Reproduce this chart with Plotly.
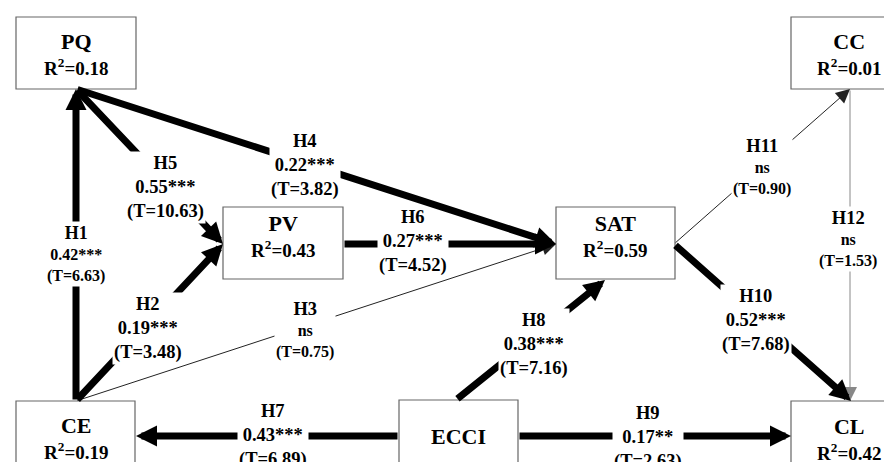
import plotly.graph_objects as go

# ---------------- data ----------------
node_names = ["PQ", "CC", "PV", "SAT", "CE", "ECCI", "CL"]
node_r2 = [0.18, 0.01, 0.43, 0.59, 0.19, None, 0.42]

hyp_ids = ["H1", "H2", "H3", "H4", "H5", "H6", "H7", "H8", "H9", "H10", "H11", "H12"]
hyp_from = ["CE", "CE", "CE", "PQ", "PQ", "PV", "ECCI", "ECCI", "ECCI", "SAT", "SAT", "CC"]
hyp_to = ["PQ", "PV", "SAT", "SAT", "PV", "SAT", "CE", "SAT", "CL", "CL", "CC", "CL"]
hyp_beta = [0.42, 0.19, None, 0.22, 0.55, 0.27, 0.43, 0.38, 0.17, 0.52, None, None]
hyp_sig = ["***", "***", "ns", "***", "***", "***", "***", "***", "**", "***", "ns", "ns"]
hyp_t = [6.63, 3.48, 0.75, 3.82, 10.63, 4.52, 6.89, 7.16, 2.63, 7.68, 0.90, 1.53]

# ---------------- layout (positions / styles) ----------------
FONT = "Liberation Serif"
BOX = {  # x0, y0, x1, y1
    "PQ": (8, 9, 128, 81), "CC": (783, 9, 900, 81),
    "PV": (215, 199, 335, 271), "SAT": (548, 199, 667, 271),
    "CE": (8, 393, 127, 480), "ECCI": (391, 392, 510, 480), "CL": (783, 393, 900, 480),
}
TEXT_POS = {
    "PQ": (68, 46), "CC": (841, 46), "PV": (275, 228), "SAT": (607, 228),
    "CE": (68, 430), "ECCI": (450, 428), "CL": (841, 431),
}
EDGE_GEOM = {  # tail, head
    "H1": ((68, 393), (68, 81)), "H2": ((68, 393), (215, 236)),
    "H3": ((68, 393), (548, 236)), "H4": ((68, 81), (548, 236)),
    "H5": ((68, 81), (215, 236)), "H6": ((335, 236), (548, 236)),
    "H7": ((391, 428), (128, 428)), "H8": ((448, 392), (597, 272)),
    "H9": ((510, 428), (783, 428)), "H10": ((666, 236), (843, 393)),
    "H11": ((666, 236), (842, 81)), "H12": ((842, 81), (842, 393)),
}
LABEL_POS = {
    "H1": (68, 246), "H2": (140, 320), "H3": (297, 322), "H4": (297, 157),
    "H5": (157, 179), "H6": (405, 233), "H7": (265, 427), "H8": (526, 336),
    "H9": (640, 429), "H10": (748, 312), "H11": (754, 159), "H12": (840, 231),
}
EDGE_STYLE = {  # width, color, arrowsize
    "thick": (7, "black", 0.6),
    "thin": (1, "#222222", 2.8),
    "grey": (1, "#888888", 2.8),
}
EDGE_KIND = {h: "thick" for h in hyp_ids}
EDGE_KIND.update({"H3": "thin", "H11": "thin", "H12": "grey"})
DRAW_ORDER = ["H3", "H12", "H6", "H1", "H2", "H4", "H5", "H7", "H8", "H9", "H10", "H11"]

fig = go.Figure()
# invisible anchor trace so the cartesian axes exist
fig.add_trace(go.Scatter(
    x=[TEXT_POS[n][0] for n in node_names], y=[TEXT_POS[n][1] for n in node_names],
    mode="markers", marker=dict(opacity=0), hoverinfo="skip", showlegend=False))

shapes = []
for n in node_names:
    x0, y0, x1, y1 = BOX[n]
    shapes.append(dict(type="rect", xref="x", yref="y", x0=x0, y0=y0, x1=x1, y1=y1,
                       line=dict(color="#666666", width=1.2), fillcolor="white", layer="below"))

annotations = []
for n, r2 in zip(node_names, node_r2):
    if r2 is None:
        txt = f"<span style='font-size:22px'>{n}</span>"
    else:
        txt = (f"<span style='font-size:22px'>{n}</span><br>"
               f"<span style='font-size:19px'>R<sup>2</sup>={r2:.2f}</span>")
    annotations.append(dict(x=TEXT_POS[n][0], y=TEXT_POS[n][1], xref="x", yref="y",
                            text=txt, showarrow=False, align="center",
                            font=dict(family=FONT, size=20, color="black", weight="bold")))

idx = {h: i for i, h in enumerate(hyp_ids)}
for h in DRAW_ORDER:
    i = idx[h]
    (tx, ty), (hx, hy) = EDGE_GEOM[h]
    w, c, s = EDGE_STYLE[EDGE_KIND[h]]
    annotations.append(dict(x=hx, y=hy, ax=tx, ay=ty, xref="x", yref="y", axref="x", ayref="y",
                            text="", showarrow=True, arrowhead=2, arrowsize=s, arrowwidth=w,
                            arrowcolor=c, standoff=0, startstandoff=0))
    beta, sig, t = hyp_beta[i], hyp_sig[i], hyp_t[i]
    if sig == "ns":
        txt = (f"<span style='font-size:18.5px'>{h}</span><br>ns<br>(T={t:.2f})")
        size = 16
    elif h == "H1":
        txt = f"<span style='font-size:18px'>{h}</span><br>{beta:.2f}{sig}<br>(T={t:.2f})"
        size = 16
    else:
        txt = f"{h}<br>{beta:.2f}{sig}<br>(T={t:.2f})"
        size = 18.5
    lx, ly = LABEL_POS[h]
    annotations.append(dict(x=lx, y=ly, xref="x", yref="y", text=txt, showarrow=False,
                            align="center", bgcolor="white", borderpad=1,
                            font=dict(family=FONT, size=size, color="black", weight="bold")))

fig.update_layout(
    width=892, height=462, margin=dict(l=0, r=0, t=0, b=0),
    paper_bgcolor="white", plot_bgcolor="white",
    xaxis=dict(range=[0, 892], visible=False, fixedrange=True),
    yaxis=dict(range=[462, 0], visible=False, fixedrange=True),
    shapes=shapes, annotations=annotations, showlegend=False,
)
fig.write_html("out.html")
